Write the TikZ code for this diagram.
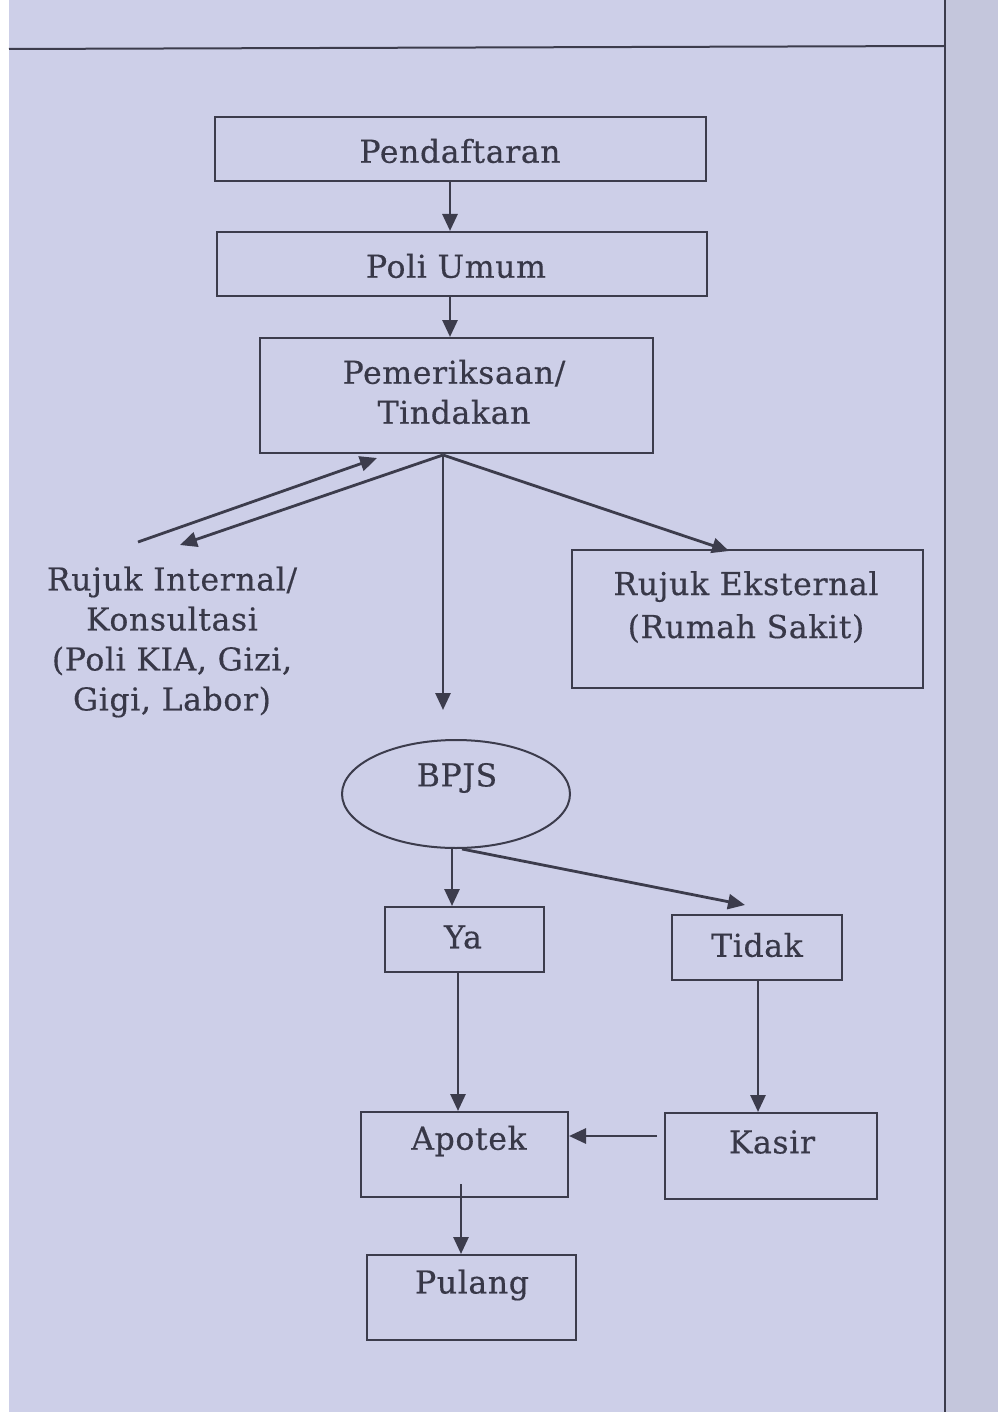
\documentclass[tikz,border=0pt]{standalone}
\usepackage{fontspec}
\setmainfont{DejaVu Serif}[LetterSpace=2,FakeBold=0.4]
\usetikzlibrary{arrows.meta,shapes.geometric}
\definecolor{paper}{RGB}{205,207,232}
\definecolor{paperR}{RGB}{196,198,220}
\definecolor{ink}{RGB}{60,60,76}
\definecolor{txt}{RGB}{56,56,72}
\tikzset{
  boxnode/.style={draw=ink, line width=2pt, rectangle, inner sep=0pt},
  ovalnode/.style={draw=ink, line width=2pt, ellipse, inner sep=0pt},
  lbl/.style={text=txt, font=\fontsize{31.5}{40}\selectfont, align=center, inner sep=0pt},
  conn/.style={draw=ink, line width=2.8pt},
  arr/.style={conn, -{Triangle[length=17pt,width=15pt]}}
}
\begin{document}
\begin{tikzpicture}[x=1pt,y=-1pt]
\useasboundingbox (0,0) rectangle (998,1412);
% page
\fill[white] (0,0) rectangle (998,1412);
\fill[paper] (9,0) rectangle (998,1412);
\fill[paperR] (946,0) rectangle (998,1412);
\draw[ink, line width=2pt] (9,49) -- (945,46);
\draw[ink, line width=1.5pt] (945,0) -- (945,1412);

% boxes
\node[boxnode, minimum width=491pt, minimum height=64pt] (pend) at (460.5,149) {};
\node[lbl] (pendT) at (460,151) {Pendaftaran};
\node[boxnode, minimum width=490pt, minimum height=64pt] (poli) at (462,264) {};
\node[lbl] (poliT) at (456,266) {Poli Umum};
\node[boxnode, minimum width=393pt, minimum height=115pt] (pem) at (456.5,395.5) {};
\node[lbl] (pemT) at (454,392) {Pemeriksaan/\\Tindakan};
\node[lbl] (rin) at (172,642) {Rujuk Internal/\\Konsultasi\\(Poli KIA, Gizi,\\Gigi, Labor)};
\node[boxnode, minimum width=351pt, minimum height=138pt] (ext) at (747.5,619) {};
\node[lbl, font=\fontsize{31.5}{43}\selectfont] (extT) at (746,607) {Rujuk Eksternal\\(Rumah Sakit)};
\node[ovalnode, minimum width=228pt, minimum height=108pt] (bpjs) at (456,794) {};
\node[lbl] (bpjsT) at (457,778) {BPJS};
\node[boxnode, minimum width=159pt, minimum height=65pt] (ya) at (464.5,939.5) {};
\node[lbl] (yaT) at (463,937) {Ya};
\node[boxnode, minimum width=170pt, minimum height=65pt] (tidak) at (757,947.5) {};
\node[lbl] (tidakT) at (757,945) {Tidak};
\node[boxnode, minimum width=207pt, minimum height=85pt] (apotek) at (464.5,1154.5) {};
\node[lbl] (apotekT) at (469,1141) {Apotek};
\node[boxnode, minimum width=212pt, minimum height=86pt] (kasir) at (771,1156) {};
\node[lbl] (kasirT) at (772,1142) {Kasir};
\node[boxnode, minimum width=209pt, minimum height=85pt] (pulang) at (471.5,1297.5) {};
\node[lbl] (pulangT) at (472,1285) {Pulang};

% helper coordinates
\coordinate (hub) at (443,455);
\coordinate (rinA) at (180,545);
\coordinate (rinB) at (138,542);
\coordinate (pemIn) at (377,458);
\coordinate (downEnd) at (443,710);
\coordinate (extIn) at (729,551);

% connectors
\draw[arr] ([xshift=-10.5pt]pend.south) -- ([xshift=-12pt]poli.north);
\draw[arr] ([xshift=-12pt]poli.south) -- ([xshift=-6.5pt]pem.north);
\draw[arr] (hub) -- (rinA);
\draw[arr] (rinB) -- (pemIn);
\draw[arr] (hub) -- (downEnd);
\draw[arr] (hub) -- (extIn);
\draw[arr] ([xshift=-4pt]bpjs.south) -- ([xshift=-12.5pt]ya.north);
\draw[arr] ([xshift=6pt]bpjs.south) -- ([xshift=-12pt,yshift=9pt]tidak.north);
\draw[arr] ([xshift=-6.5pt]ya.south) -- ([xshift=-6.5pt]apotek.north);
\draw[arr] ([xshift=1pt]tidak.south) -- ([xshift=-13pt]kasir.north);
\draw[arr] ([xshift=-7pt,yshift=20pt]kasir.west) -- ([yshift=18.5pt]apotek.east);
\draw[arr] ([xshift=-3.5pt,yshift=14pt]apotek.south) -- ([xshift=-10.5pt]pulang.north);
\end{tikzpicture}
\end{document}
